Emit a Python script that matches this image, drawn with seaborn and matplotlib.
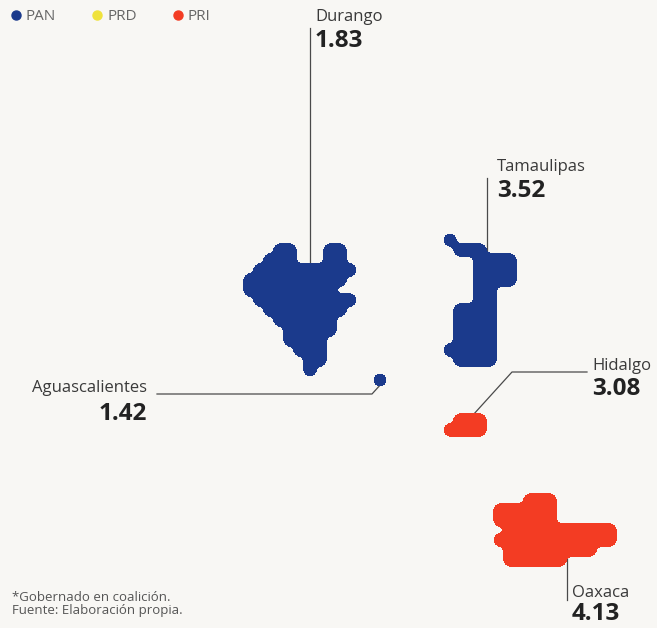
import matplotlib
matplotlib.use("Agg")
import matplotlib.pyplot as plt
from matplotlib.lines import Line2D
import numpy as np
import pandas as pd
import seaborn as sns

# estados, indice y partido que gobierna
estados = ["Durango", "Tamaulipas", "Aguascalientes", "Hidalgo", "Oaxaca"]
valores = [1.83, 3.52, 1.42, 3.08, 4.13]
partidos = ["PAN", "PAN", "PAN", "PRI", "PRI"]
partidos_leyenda = ["PAN", "PRD", "PRI"]
notas = ["*Gobernado en coalición.", "Fuente: Elaboración propia."]

# silueta de cada estado en una rejilla de celdas de 10 px
forma_durango = [
    "...XX...XX.",
    "..XXX...XX.",
    ".XXXXXXXXXX",
    "XXXXXXXXXX.",
    "XXXXXXXXX..",
    ".XXXXXXXXXX",
    "..XXXXXXXX.",
    "...XXXXXX..",
    "....XXXXX..",
    "....XXXX...",
    ".....XXX...",
    "......XX...",
    "......X....",
]
forma_tamaulipas = [
    "X......",
    ".XXX...",
    "...XXXX",
    "...XXXX",
    "...XXXX",
    "...XX..",
    "...XX..",
    ".XXXX..",
    ".XXXX..",
    ".XXXX..",
    ".XXXX..",
    "XXXXX..",
    ".XXXX..",
]
forma_aguascalientes = ["X"]
forma_hidalgo = [
    ".XXX",
    "XXXX",
]
forma_oaxaca = [
    "...XXX......",
    "XXXXXX......",
    "XXXXXX......",
    ".XXXXXXXXXXX",
    "XXXXXXXXXXXX",
    ".XXXXXXXXX..",
    ".XXXXXX.....",
]
formas = {"Durango": forma_durango, "Tamaulipas": forma_tamaulipas,
          "Aguascalientes": forma_aguascalientes, "Hidalgo": forma_hidalgo,
          "Oaxaca": forma_oaxaca}

# esquina superior izquierda de cada silueta (columna, fila)
origen = {"Durango": (25, 25), "Tamaulipas": (45, 24), "Aguascalientes": (38, 38),
          "Hidalgo": (45, 42), "Oaxaca": (50, 50)}
CELDA = 10
MARGEN = 15
SIGMA = 3.5
UMBRAL = 0.3

colores = {"PAN": "#1b3a8c", "PRD": "#efe23c", "PRI": "#f33c23"}
fondo = "#f8f7f4"
gris = "#3a3a3a"

# etiqueta: x, base del nombre, base de la cifra, alineacion y trazo de la guia
etiquetas = {
    "Durango": (315, 21, 47, "left", [(310, 28), (310, 270)]),
    "Tamaulipas": (497, 171, 197, "left", [(487, 178), (487, 265)]),
    "Aguascalientes": (147, 392, 420, "right", [(157, 394), (372, 394), (382, 383)]),
    "Hidalgo": (592, 370, 395, "left", [(587, 372), (512, 372), (473, 415)]),
    "Oaxaca": (572, 597, 620, "left", [(567, 535), (567, 600)]),
}


def suavizar(mascara, sigma):
    rad = int(3 * sigma)
    k = np.exp(-0.5 * (np.arange(-rad, rad + 1) / sigma) ** 2)
    k /= k.sum()
    out = np.apply_along_axis(lambda v: np.convolve(v, k, mode="same"), 0, mascara)
    return np.apply_along_axis(lambda v: np.convolve(v, k, mode="same"), 1, out)


# cada celda se pasa a pixeles y se suaviza para dar bordes redondeados
puntos = []
for estado, partido in zip(estados, partidos):
    c0, r0 = origen[estado]
    mascara = np.array([[ch == "X" for ch in fila] for fila in formas[estado]], float)
    fino = np.kron(mascara, np.ones((CELDA, CELDA)))
    fino = np.pad(fino, MARGEN)
    valor = suavizar(fino, SIGMA)
    filas, cols = np.nonzero(valor >= UMBRAL)
    x_ini = c0 * CELDA - CELDA / 2 - MARGEN + 0.5
    y_ini = r0 * CELDA - CELDA / 2 - MARGEN + 0.5
    puntos.append(pd.DataFrame({"estado": estado, "partido": partido,
                                "x": x_ini + cols, "y": y_ini + filas}))
df = pd.concat(puntos, ignore_index=True)

fig = plt.figure(figsize=(6.57, 6.28), dpi=100)
fig.patch.set_facecolor(fondo)
ax = fig.add_axes([0, 0, 1, 1])
ax.set_facecolor(fondo)

plt.rcParams["font.family"] = ["Open Sans", "DejaVu Sans"]

# guias
for estado in estados:
    pts = etiquetas[estado][4]
    ax.plot([p[0] for p in pts], [p[1] for p in pts], color="#4a4a4a", lw=0.9, zorder=1)

sns.scatterplot(data=df, x="x", y="y", hue="partido", palette=colores, marker="s",
                s=1.4, linewidth=0, legend=False, ax=ax, zorder=3)
ax.set_xlim(0, 657)
ax.set_ylim(628, 0)
ax.axis("off")

for estado, valor in zip(estados, valores):
    x, y_nom, y_val, ha, _ = etiquetas[estado]
    ax.text(x, y_nom, estado, ha=ha, va="baseline", fontsize=12, color=gris)
    ax.text(x, y_val, f"{valor:.2f}", ha=ha, va="baseline", fontsize=17.5,
            fontweight="bold", color="#222222")

handles = [Line2D([], [], marker="o", ls="", color=colores[p], markersize=6.5)
           for p in partidos_leyenda]
ax.legend(handles, partidos_leyenda, ncol=3, loc="upper left", frameon=False,
          bbox_to_anchor=(0.003, 0.995), handletextpad=0.15, columnspacing=2.2,
          handlelength=1.0, borderaxespad=0, labelcolor="#666666",
          prop={"size": 11})

ax.text(12, 601, notas[0], fontsize=9.5, color="#555555", va="baseline")
ax.text(12, 614, notas[1], fontsize=9.5, color="#555555", va="baseline")

fig.savefig("out.png", dpi=100, facecolor=fondo)
